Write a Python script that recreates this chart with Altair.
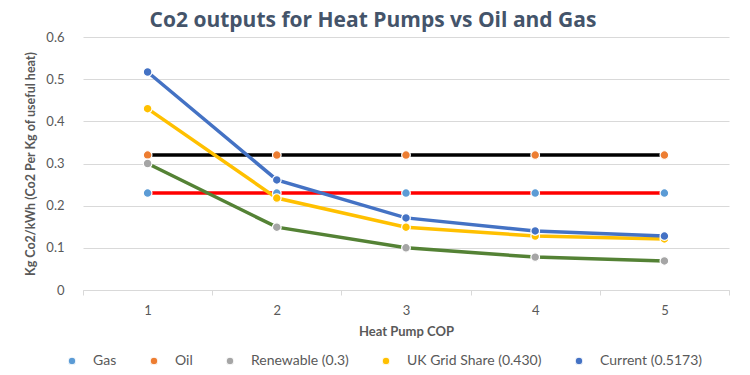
import altair as alt
import pandas as pd

cop = [1, 2, 3, 4, 5]
series_names = ["Gas", "Oil", "Renewable (0.3)", "UK Grid Share (0.430)", "Current (0.5173)"]
gas = [0.23, 0.23, 0.23, 0.23, 0.23]
oil = [0.32, 0.32, 0.32, 0.32, 0.32]
renewable = [0.30, 0.149, 0.10, 0.078, 0.069]
uk_grid = [0.43, 0.218, 0.149, 0.128, 0.121]
current = [0.517, 0.261, 0.171, 0.14, 0.128]

line_colors = ["#FF0000", "#000000", "#548235", "#FFC000", "#4472C4"]
marker_colors = ["#5B9BD5", "#ED7D31", "#A5A5A5", "#FFC000", "#4472C4"]

rows = []
for i, (name, vals) in enumerate(zip(series_names, [gas, oil, renewable, uk_grid, current])):
    for c, v in zip(cop, vals):
        rows.append({"cop": str(c), "value": v, "series": name, "order": i})
df = pd.DataFrame(rows)

x = alt.X("cop:O", title="Heat Pump COP",
          scale=alt.Scale(type="band", paddingInner=0, paddingOuter=0),
          axis=alt.Axis(labelAngle=0, tickBand="extent", tickSize=5, tickColor="#D9D9D9",
                        domainColor="#D9D9D9", labelPadding=9, titlePadding=8,
                        labelFontSize=13, labelColor="#595959", titleFontSize=13,
                        titleColor="#595959", titleFontWeight="bold", grid=False))
y = alt.Y("value:Q", title="Kg Co2/kWh (Co2 Per Kg of useful heat)",
          scale=alt.Scale(domain=[0, 0.6]),
          axis=alt.Axis(values=[0, 0.1, 0.2, 0.3, 0.4, 0.5, 0.6], format="~g", ticks=False,
                        domain=False, gridColor="#D9D9D9", labelPadding=19,
                        labelFontSize=13, labelColor="#595959", titleFontSize=12.5,
                        titleColor="#595959", titleFontWeight="bold", titlePadding=8))

legend = alt.Legend(title=None, orient="none", legendX=-18, legendY=317, direction="horizontal",
                    symbolType="circle", symbolSize=60, labelFontSize=14,
                    labelColor="#595959", columnPadding=30, labelOffset=14,
                    symbolStrokeColor="white", symbolStrokeWidth=1)

lines = alt.Chart(df).mark_line(strokeWidth=3.5).encode(
    x=x, y=y,
    stroke=alt.Stroke("series:N", scale=alt.Scale(domain=series_names, range=line_colors), legend=None),
    order=alt.Order("order:Q"),
)
points = alt.Chart(df).mark_circle(size=75, stroke="white", strokeWidth=1.2, opacity=1).encode(
    x=x, y=y,
    color=alt.Color("series:N", scale=alt.Scale(domain=series_names, range=marker_colors), legend=legend),
    order=alt.Order("order:Q"),
)

chart = alt.layer(lines, points).resolve_scale(color="independent").resolve_legend(color="independent", stroke="independent").properties(
    width=646, height=253,
    title=alt.TitleParams("Co2 outputs for Heat Pumps vs Oil and Gas", fontSize=21, font="Open Sans",
                          fontWeight="bold", color="#44546A", anchor="middle", dx=-33, offset=0),
    padding={"left": 16, "top": 2, "right": 5, "bottom": 0},
).configure(font="Lato").configure_view(stroke=None)

chart.save("out.html", embed_options={"renderer": "svg", "actions": False})
